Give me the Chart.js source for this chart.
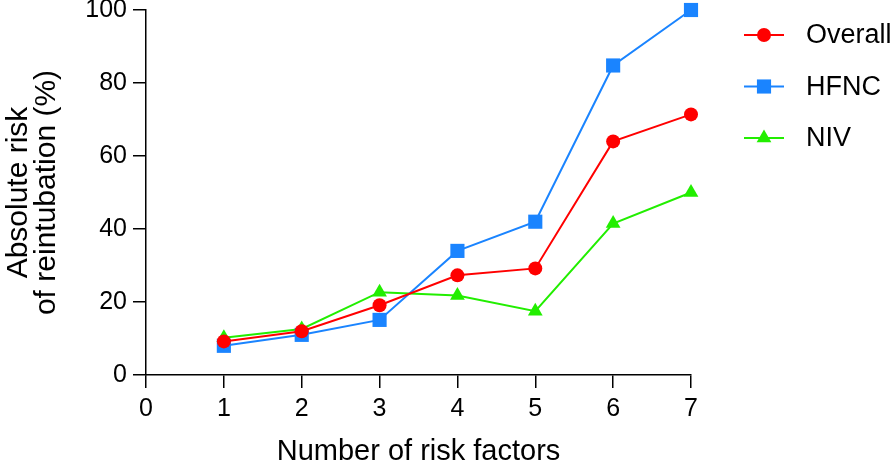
<!DOCTYPE html>
<html><head><meta charset="utf-8">
<script src="https://cdn.jsdelivr.net/npm/chart.js@4/dist/chart.umd.min.js"></script>
<style>html,body{margin:0;padding:0;background:#fff}#wrap{width:896px;height:465px;position:relative}</style>
</head><body><div id="wrap"><canvas id="c"></canvas></div>
<script>
const riskFactors = [1, 2, 3, 4, 5, 6, 7];
const overall = [9.2, 12.0, 19.1, 27.3, 29.2, 64.0, 71.4];
const hfnc = [8.0, 11.0, 15.1, 34.0, 42.0, 84.8, 100];
const niv = [10.2, 12.6, 22.7, 21.8, 17.5, 41.5, 50];
const seriesNames = ['Overall', 'HFNC', 'NIV'];
const xTickValues = [0, 1, 2, 3, 4, 5, 6, 7];
const yTickValues = [0, 20, 40, 60, 80, 100];
const xTitle = 'Number of risk factors';
const yTitle = ['Absolute risk', 'of reintubation (%)'];

const FONT = '"Liberation Sans", Arial, sans-serif';
const colors = ['#ff0000', '#1a84ff', '#22ee00'];
const styles = ['circle', 'rect', 'triangle'];
const radii = [7, 10, 8.5];

function pts(arr) { return riskFactors.map((x, i) => ({ x: x, y: arr[i] })); }

const datasets = [overall, hfnc, niv].map((arr, i) => ({
  label: seriesNames[i],
  data: pts(arr),
  borderColor: colors[i],
  backgroundColor: colors[i],
  borderWidth: 2,
  pointStyle: styles[i],
  pointRadius: radii[i],
  pointBorderWidth: 0,
  pointBackgroundColor: colors[i],
  pointBorderColor: colors[i],
  tension: 0,
  clip: false
}));

function drawMarker(ctx, style, x, y, r, color) {
  ctx.save();
  ctx.fillStyle = color;
  ctx.beginPath();
  if (style === 'circle') {
    ctx.arc(x, y, r, 0, Math.PI * 2);
  } else if (style === 'rect') {
    const s = Math.SQRT1_2 * r;
    ctx.rect(x - s, y - s, 2 * s, 2 * s);
  } else {
    const a = 2 * Math.PI / 3;
    ctx.moveTo(x, y - r);
    ctx.lineTo(x + Math.sin(a) * r, y - Math.cos(a) * r);
    ctx.lineTo(x + Math.sin(2 * a) * r, y - Math.cos(2 * a) * r);
    ctx.closePath();
  }
  ctx.fill();
  ctx.restore();
}

const legendPlugin = {
  id: 'customLegend',
  afterDraw(chart) {
    const ctx = chart.ctx;
    const rowY = [35, 86.5, 138];
    chart.data.datasets.forEach((ds, i) => {
      const y = rowY[i];
      ctx.save();
      ctx.strokeStyle = ds.borderColor;
      ctx.lineWidth = 2;
      ctx.beginPath();
      ctx.moveTo(744, y);
      ctx.lineTo(784, y);
      ctx.stroke();
      ctx.restore();
      drawMarker(ctx, ds.pointStyle, 764, y, ds.pointRadius, ds.borderColor);
      ctx.save();
      ctx.fillStyle = '#000';
      ctx.font = '27px ' + FONT;
      ctx.textBaseline = 'middle';
      ctx.textAlign = 'left';
      ctx.fillText(ds.label, 806, y + 1);
      ctx.restore();
    });
  }
};

new Chart(document.getElementById('c'), {
  type: 'line',
  data: { datasets: datasets },
  options: {
    responsive: true,
    maintainAspectRatio: false,
    animation: false,
    layout: { padding: { top: 10, right: 205, bottom: 0, left: 0 } },
    plugins: { legend: { display: false }, tooltip: { enabled: false } },
    scales: {
      x: {
        type: 'linear', min: 0, max: 7,
        afterBuildTicks: s => { s.ticks = xTickValues.map(v => ({ value: v })); },
        afterFit: s => { s.height = 90; s.paddingLeft = 0; s.paddingRight = 0; },
        ticks: { color: '#000', font: { family: FONT, size: 25 }, padding: 6, maxRotation: 0 },
        grid: { display: true, drawOnChartArea: false, drawTicks: true, tickLength: 13, color: '#000', lineWidth: 1.5 },
        border: { display: true, color: '#000', width: 1.5 },
        title: { display: true, text: xTitle, color: '#000', font: { family: FONT, size: 29, lineHeight: 0.9 }, padding: { top: 0, bottom: 0 } }
      },
      y: {
        type: 'linear', min: 0, max: 100,
        afterBuildTicks: s => { s.ticks = yTickValues.map(v => ({ value: v })); },
        afterFit: s => { s.width = 146; s.paddingTop = 0; s.paddingBottom = 0; },
        ticks: { color: '#000', font: { family: FONT, size: 25 }, padding: 6 },
        grid: { display: true, drawOnChartArea: false, drawTicks: true, tickLength: 13, color: '#000', lineWidth: 1.5 },
        border: { display: true, color: '#000', width: 1.5 },
        title: { display: true, text: yTitle, color: '#000', font: { family: FONT, size: 30, lineHeight: 0.95 }, padding: { top: 4, bottom: 0 } }
      }
    }
  },
  plugins: [legendPlugin]
});
</script></body></html>
